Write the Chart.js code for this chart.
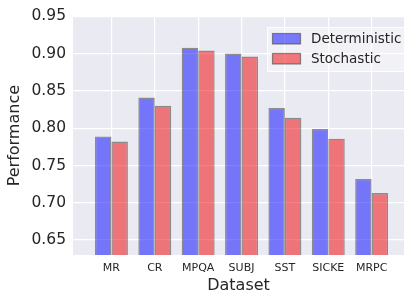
<!DOCTYPE html>
<html>
<head>
<meta charset="utf-8">
<script src="https://cdn.jsdelivr.net/npm/chart.js@4/dist/chart.umd.min.js"></script>
<style>
  html, body { margin: 0; padding: 0; background: #fff; }
  #wrap { width: 404px; height: 293px; }
</style>
</head>
<body>
<div id="wrap"><canvas id="chart" width="404" height="293"></canvas></div>
<script>
const categories = ['MR', 'CR', 'MPQA', 'SUBJ', 'SST', 'SICKE', 'MRPC'];
const deterministic = [0.789, 0.841, 0.908, 0.900, 0.827, 0.799, 0.732];
const stochastic = [0.782, 0.830, 0.904, 0.896, 0.814, 0.786, 0.713];
const yTicks = [0.65, 0.70, 0.75, 0.80, 0.85, 0.90, 0.95];

const font = 'DejaVu Sans';
const ink = '#262626';

// plot background in seaborn darkgrid style
const plotBg = {
    id: 'plotBg',
    beforeDraw(chart) {
        const { ctx, chartArea: a } = chart;
        ctx.save();
        ctx.fillStyle = '#eaeaf2';
        ctx.fillRect(a.left, a.top, a.right - a.left, a.bottom - a.top);
        ctx.restore();
    }
};

// legend drawn inside the plot, top right
const innerLegend = {
    id: 'innerLegend',
    afterDatasetsDraw(chart) {
        const { ctx, chartArea: a } = chart;
        const x = 267, y = 27, w = a.right - 267 + 4, h = 45;
        ctx.save();
        ctx.fillStyle = 'rgba(255,255,255,0.35)';
        ctx.strokeStyle = 'rgba(255,255,255,0.9)';
        ctx.lineWidth = 1;
        ctx.fillRect(x, y, w, h);
        ctx.strokeRect(x + 0.5, y + 0.5, w, h - 1);
        ctx.font = '13.5px "' + font + '"';
        ctx.textBaseline = 'middle';
        chart.data.datasets.forEach((ds, i) => {
            const ry = 33.5 + i * 20;
            ctx.fillStyle = ds.backgroundColor;
            ctx.fillRect(272.5, ry, 28, 10.5);
            ctx.strokeStyle = ds.borderColor;
            ctx.lineWidth = 1.2;
            ctx.strokeRect(272.5, ry, 28, 10.5);
            ctx.fillStyle = ink;
            ctx.fillText(ds.label, 311, ry + 6);
        });
        ctx.restore();
    }
};

new Chart(document.getElementById('chart'), {
    type: 'bar',
    data: {
        datasets: [{
            label: 'Deterministic',
            data: deterministic.map((v, i) => ({ x: i, y: v })),
            backgroundColor: 'rgba(0,0,255,0.5)',
            borderColor: 'rgba(60,60,60,0.55)',
            borderWidth: 1.3
        }, {
            label: 'Stochastic',
            data: stochastic.map((v, i) => ({ x: i, y: v })),
            backgroundColor: 'rgba(240,0,0,0.5)',
            borderColor: 'rgba(60,60,60,0.55)',
            borderWidth: 1.3
        }]
    },
    options: {
        responsive: false,
        animation: false,
        categoryPercentage: 0.76,
        barPercentage: 1.0,
        layout: { padding: { top: 16, right: 0, left: 0, bottom: 0 } },
        plugins: {
            legend: { display: false },
            tooltip: { enabled: false }
        },
        scales: {
            x: {
                type: 'linear',
                offset: false,
                min: -0.886,
                max: 6.746,
                afterBuildTicks: s => { s.ticks = categories.map((_, i) => ({ value: i })); },
                afterFit: s => { s.height = 38; },
                grid: { color: '#ffffff', lineWidth: 1.2, drawTicks: false, offset: false },
                border: { display: false },
                ticks: {
                    padding: 7,
                    color: ink,
                    font: { family: font, size: 11 },
                    maxRotation: 0,
                    callback: v => categories[v]
                },
                title: {
                    display: true,
                    text: 'Dataset',
                    color: ink,
                    font: { family: font, size: 16 },
                    padding: { top: 0, bottom: -2.6 }
                }
            },
            y: {
                min: 0.63,
                max: 0.95,
                afterBuildTicks: s => { s.ticks = yTicks.map(v => ({ value: v })); },
                afterFit: s => { s.width = 73; },
                grid: { color: '#ffffff', lineWidth: 1.2, drawTicks: false },
                border: { display: false },
                ticks: {
                    padding: 7,
                    color: ink,
                    font: { family: font, size: 15.5 },
                    callback: v => v.toFixed(2)
                },
                title: {
                    display: true,
                    text: 'Performance',
                    color: ink,
                    font: { family: font, size: 16 },
                    padding: { top: 5.4, bottom: 0 }
                }
            }
        }
    },
    plugins: [plotBg, innerLegend]
});
</script>
</body>
</html>
